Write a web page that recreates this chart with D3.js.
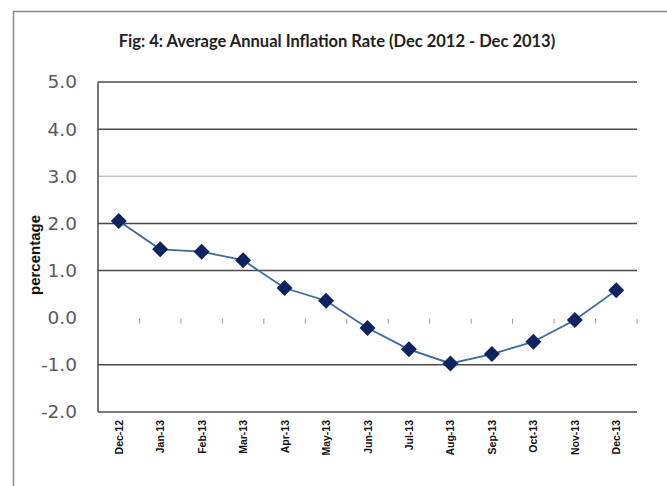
<!DOCTYPE html>
<html>
<head>
<meta charset="utf-8">
<script src="https://cdn.jsdelivr.net/npm/d3@7"></script>
<style>
  html, body { margin: 0; padding: 0; background: #fff; }
  svg { display: block; }
</style>
</head>
<body>
<svg id="chart" width="667" height="486"></svg>
<script>
const title = "Fig: 4: Average Annual Inflation Rate (Dec 2012 - Dec 2013)";
const yAxisTitle = "percentage";
const categories = ["Dec-12","Jan-13","Feb-13","Mar-13","Apr-13","May-13","Jun-13","Jul-13","Aug-13","Sep-13","Oct-13","Nov-13","Dec-13"];
const inflation = [2.05, 1.45, 1.40, 1.22, 0.63, 0.36, -0.22, -0.67, -0.97, -0.77, -0.51, -0.05, 0.58];
const yTicks = [-2, -1, 0, 1, 2, 3, 4, 5];

const svg = d3.select("#chart");
const margin = {left: 98, right: 30, top: 82, bottom: 74};
const W = 667, H = 486;

// outer frame (right/bottom edges lie outside the picture)
svg.append("path")
  .attr("d", "M13.5,486 L13.5,11.5 L667,11.5")
  .attr("fill", "none").attr("stroke", "#8a8a8a").attr("stroke-width", 1.5);

const x = d3.scaleBand().domain(categories).range([margin.left, W - margin.right]).paddingInner(0).paddingOuter(0);
const y = d3.scaleLinear().domain([-2, 5]).range([H - margin.bottom, margin.top]);

// gridlines
const grid = svg.append("g");
grid.selectAll("line").data(yTicks.filter(v => v !== 0))
  .join("line")
  .attr("x1", margin.left).attr("x2", W - margin.right)
  .attr("y1", d => y(d)).attr("y2", d => y(d))
  .attr("stroke", d => d === 3 ? "#c4c4c4" : "#4a4a4a")
  .attr("stroke-width", 1.5);

// left axis line
svg.append("line")
  .attr("x1", margin.left).attr("x2", margin.left)
  .attr("y1", y(5)).attr("y2", y(-2))
  .attr("stroke", "#4a4a4a").attr("stroke-width", 1.5);

// y tick labels
const fmt = d => d3.format(".1f")(d).replace("\u2212", "-");
const yAxis = d3.axisLeft(y).tickValues(yTicks).tickFormat(fmt).tickSize(0).tickPadding(21);
const gy = svg.append("g").attr("transform", `translate(${margin.left},0)`).call(yAxis);
gy.select(".domain").remove();
gy.selectAll("text")
  .attr("font-family", "DejaVu Sans, sans-serif")
  .attr("font-size", 18.5)
  .attr("fill", "#5a5a5a");

// category axis crossing at zero: small tick marks at boundaries
const bounds = categories.map((c, i) => x(c) + x.bandwidth());
svg.append("g").selectAll("line").data(bounds).join("line")
  .attr("x1", d => d).attr("x2", d => d)
  .attr("y1", y(0) + 1).attr("y2", y(0) + 6)
  .attr("stroke", "#9a9a9a").attr("stroke-width", 1);

// x labels at bottom
svg.append("g").selectAll("text").data(categories).join("text")
  .attr("transform", d => `translate(${x(d) + x.bandwidth() / 2 + 4},${y(-2) + 8}) rotate(-90)`)
  .attr("text-anchor", "end")
  .attr("font-family", "Liberation Sans, Arial, sans-serif")
  .attr("font-weight", "bold")
  .attr("font-size", 10.5)
  .attr("fill", "#111")
  .text(d => d);

// line
const line = d3.line()
  .x((d, i) => x(categories[i]) + x.bandwidth() / 2)
  .y(d => y(d));
svg.append("path").datum(inflation)
  .attr("d", line)
  .attr("fill", "none")
  .attr("stroke", "#3b6aa0")
  .attr("stroke-width", 1.8);

// diamond markers
const r = 8;
svg.append("g").selectAll("path").data(inflation).join("path")
  .attr("transform", (d, i) => `translate(${x(categories[i]) + x.bandwidth() / 2},${y(d)})`)
  .attr("d", `M0,${-r} L${r},0 L0,${r} L${-r},0 Z`)
  .attr("fill", "#0d2460");

// y axis title
svg.append("text")
  .attr("transform", `translate(40,${(y(5) + y(-2)) / 2 + 8}) rotate(-90)`)
  .attr("text-anchor", "middle")
  .attr("font-family", "Liberation Sans, Arial, sans-serif")
  .attr("font-weight", "bold")
  .attr("font-size", 15)
  .attr("fill", "#111")
  .text(yAxisTitle);

// title
svg.append("text")
  .attr("x", 337).attr("y", 47)
  .attr("text-anchor", "middle")
  .attr("font-family", "Lato, sans-serif")
  .attr("font-weight", "bold")
  .attr("font-size", 16.5)
  .attr("fill", "#222")
  .text(title);
</script>
</body>
</html>
